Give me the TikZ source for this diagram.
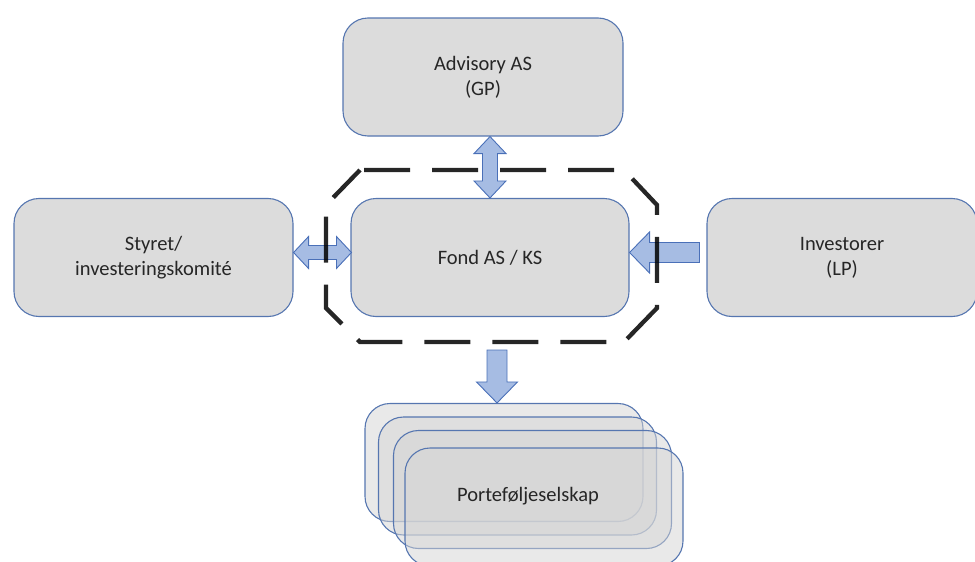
\documentclass[tikz,border=0pt]{standalone}
\usepackage{fontspec}
\setmainfont{Carlito}
\usetikzlibrary{calc}
\definecolor{boxgray}{HTML}{DCDCDC}
\definecolor{pfgray}{HTML}{D4D4D4}
\definecolor{boxblue}{HTML}{5676B0}
\definecolor{arrowfill}{HTML}{A6BCE3}
\definecolor{arrowline}{HTML}{4A70B8}
\definecolor{txt}{HTML}{262626}
\tikzset{
  box/.style={draw=boxblue, fill=boxgray, rounded corners=25pt, line width=1.1pt,
    minimum width=279pt, minimum height=118pt, inner sep=0pt, align=center,
    text=txt, font=\fontsize{20.5}{25}\selectfont},
  pfbox/.style={draw=boxblue, fill=pfgray, fill opacity=0.5, draw opacity=1,
    rounded corners=25pt, line width=1.1pt, minimum width=278pt, minimum height=118pt, inner sep=0pt},
  lbl/.style={text=txt, font=\fontsize{20.5}{25}\selectfont, inner sep=0pt},
  barrow/.style={draw=arrowline, fill=arrowfill, line width=0.9pt, line join=miter},
  dashedframe/.style={draw=black, draw opacity=0.85, line width=4.3pt,
    dash pattern=on 46pt off 22pt, dash phase=-4pt}
}
\begin{document}
\begin{tikzpicture}[x=1pt, y=-1pt]
\useasboundingbox (0,0) rectangle (975,562);
% main boxes
\node[box, minimum width=280pt] (adv) at (483,77) {Advisory AS\\(GP)};
\node[box] (sty) at (153.5,257.5) {Styret/\\investeringskomité};
\node[box, minimum width=278pt] (fond) at (490,257.5) {Fond AS / KS};
\node[box, minimum width=270pt] (inv) at (842,257.5) {Investorer\\(LP)};
% portfolio stack
\node[pfbox] (pf1) at (504,462.5) {};
\node[pfbox] (pf2) at (517.5,476) {};
\node[pfbox] (pf3) at (532.5,489.5) {};
\node[pfbox] (pf4) at (544,507) {};
\node[lbl] (pftext) at (528,496) {Porteføljeselskap};
% vertical double arrow Advisory <-> Fond
\coordinate (vb) at (fond.north);
\coordinate (vt) at (fond.north |- adv.south);
\draw[barrow] (vb) -- ++(-16,-17) -- ++(8.5,0) -- ($(vt)+(-7.5,17)$) -- ++(-8.5,0) -- (vt)
  -- ++(16,17) -- ++(-8.5,0) -- ($(vb)+(7.5,-17)$) -- ++(8.5,0) -- cycle;
% horizontal double arrow Styret <-> Fond
\coordinate (hl) at ($(sty.east)+(0,-5)$);
\coordinate (hr) at ($(fond.west)+(1,-5)$);
\draw[barrow] (hl) -- ++(15,-16) -- ++(0,9) -- ($(hr)+(-15,-7)$) -- ++(0,-9) -- (hr)
  -- ++(-15,16) -- ++(0,-9) -- ($(hl)+(15,7)$) -- ++(0,9) -- cycle;
% Investorer -> Fond
\coordinate (it) at ($(fond.east)+(0,-5)$);
\coordinate (ib) at ($(inv.west)+(-7,-5)$);
\draw[barrow] (it) -- ++(20,-20.5) -- ++(0,10.5) -- ($(ib)+(0,-10)$) -- ++(0,20)
  -- ($(it)+(20,10)$) -- ++(0,10.5) -- cycle;
% Fond -> Portfolio
\coordinate (dtop) at (497,350);
\coordinate (dtip) at (dtop |- pf1.north);
\draw[barrow] (dtop) -- ++(10,0) -- ($(dtip)+(10,-21)$) -- ++(10.5,0) -- (dtip)
  -- ++(-20.5,-21) -- ++(10.5,0) -- ($(dtop)+(-10,0)$) -- cycle;
% dashed frame around the fund
\draw[dashedframe] (360,170) -- (624,170) -- (657,205) -- (657,308) -- (624,342)
  -- (360,342) -- (326,308) -- (326,205) -- cycle;
\end{tikzpicture}
\end{document}
